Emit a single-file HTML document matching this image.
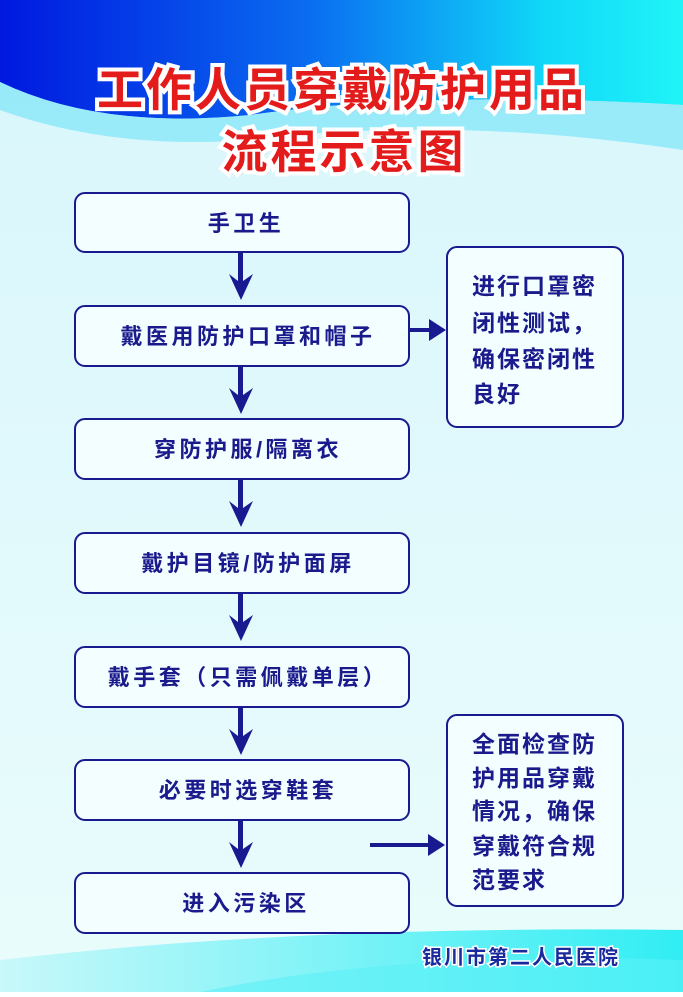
<!DOCTYPE html>
<html><head><meta charset="utf-8"><style>
html,body{margin:0;padding:0}
body{width:683px;height:992px;overflow:hidden}
text{font-family:"Liberation Sans","Noto Sans CJK SC",sans-serif;font-weight:bold}
</style></head><body>
<svg width="683" height="992" viewBox="0 0 683 992" xmlns="http://www.w3.org/2000/svg">
<defs>
<linearGradient id="top" x1="0" y1="0" x2="1" y2="0">
<stop offset="0" stop-color="#0018e0"/><stop offset="0.45" stop-color="#0a6cf0"/><stop offset="0.8" stop-color="#10d8f8"/><stop offset="1" stop-color="#20f4f8"/>
</linearGradient>
<linearGradient id="bg" x1="0" y1="0" x2="0" y2="1">
<stop offset="0" stop-color="#d8f6fc"/><stop offset="1" stop-color="#eafcfc"/>
</linearGradient>
<linearGradient id="bot" x1="0" y1="0" x2="1" y2="0">
<stop offset="0" stop-color="#c8f8fa"/><stop offset="1" stop-color="#30eef4"/>
</linearGradient>
</defs>
<rect width="683" height="992" fill="url(#bg)"/>
<path d="M0,0 H683 V105 Q420,90 250,115 Q100,130 0,82 Z" fill="url(#top)"/>
<path d="M0,82 Q100,130 250,115 Q420,90 683,105 V150 Q450,115 250,140 Q110,150 0,110 Z" fill="#7ee6f8" opacity="0.7"/>
<path d="M0,960 Q300,925 683,930 V992 H0 Z" fill="url(#bot)"/>
<path d="M200,992 Q400,950 683,960 V992 Z" fill="#5cf0f6" opacity="0.6"/>
<g font-size="46" text-anchor="middle" fill="#7a0a0a" opacity="0.35" style="letter-spacing:3px">
<text x="345" y="109">工作人员穿戴防护用品</text>
<text x="347" y="171">流程示意图</text>
</g>
<g font-size="46" text-anchor="middle" fill="#e31b1b" stroke="#ffffff" stroke-width="8" paint-order="stroke" style="letter-spacing:3px">
<text x="342" y="106">工作人员穿戴防护用品</text>
<text x="344" y="168">流程示意图</text>
</g>
<g fill="#f2feff" stroke="#1a1a90" stroke-width="2">
<rect x="75" y="193" width="334" height="59" rx="10"/>
<rect x="75" y="306" width="334" height="60" rx="10"/>
<rect x="75" y="419" width="334" height="60" rx="10"/>
<rect x="75" y="533" width="334" height="60" rx="10"/>
<rect x="75" y="647" width="334" height="60" rx="10"/>
<rect x="75" y="760" width="334" height="60" rx="10"/>
<rect x="75" y="873" width="334" height="60" rx="10"/>
<rect x="447" y="247" width="176" height="180" rx="10"/>
<rect x="447" y="715" width="176" height="191" rx="10"/>
</g>
<g fill="#1a1a90">
<path d="M238,252 h5 v29 l10,-7 l-12,26 l-12,-26 l9,7 z"/>
<path d="M238,366 h5 v29 l10,-7 l-12,26 l-12,-26 l9,7 z"/>
<path d="M238,479 h5 v29 l10,-7 l-12,26 l-12,-26 l9,7 z"/>
<path d="M238,593 h5 v29 l10,-7 l-12,26 l-12,-26 l9,7 z"/>
<path d="M238,707 h5 v29 l10,-7 l-12,26 l-12,-26 l9,7 z"/>
<path d="M238,820 h5 v29 l10,-7 l-12,26 l-12,-26 l9,7 z"/>
<path d="M409,328 h20 v-9 l17,11 l-17,11 v-9 h-20 z"/>
<path d="M370,843 h58 v-9 l17,11 l-17,11 v-9 h-58 z"/>
</g>
<g font-size="22" fill="#1a1a8c" text-anchor="middle" style="letter-spacing:3.5px">
<text x="246" y="231">手卫生</text>
<text x="248" y="344">戴医用防护口罩和帽子</text>
<text x="248" y="457">穿防护服/隔离衣</text>
<text x="248" y="571">戴护目镜/防护面屏</text>
<text x="248" y="685">戴手套（只需佩戴单层）</text>
<text x="248" y="798">必要时选穿鞋套</text>
<text x="246" y="911">进入污染区</text>
</g>
<g font-size="23" fill="#1a1a8c" style="letter-spacing:2px">
<text x="472" y="294">进行口罩密</text>
<text x="472" y="331">闭性测试，</text>
<text x="472" y="367">确保密闭性</text>
<text x="472" y="402">良好</text>
<text x="472" y="752">全面检查防</text>
<text x="472" y="786">护用品穿戴</text>
<text x="472" y="819">情况，确保</text>
<text x="472" y="854">穿戴符合规</text>
<text x="472" y="888">范要求</text>
</g>
<text x="521" y="964" font-size="20" fill="#1a2a9c" text-anchor="middle" stroke="#ffffff" stroke-width="3" paint-order="stroke" style="letter-spacing:2px">银川市第二人民医院</text>
</svg>
</body></html>
